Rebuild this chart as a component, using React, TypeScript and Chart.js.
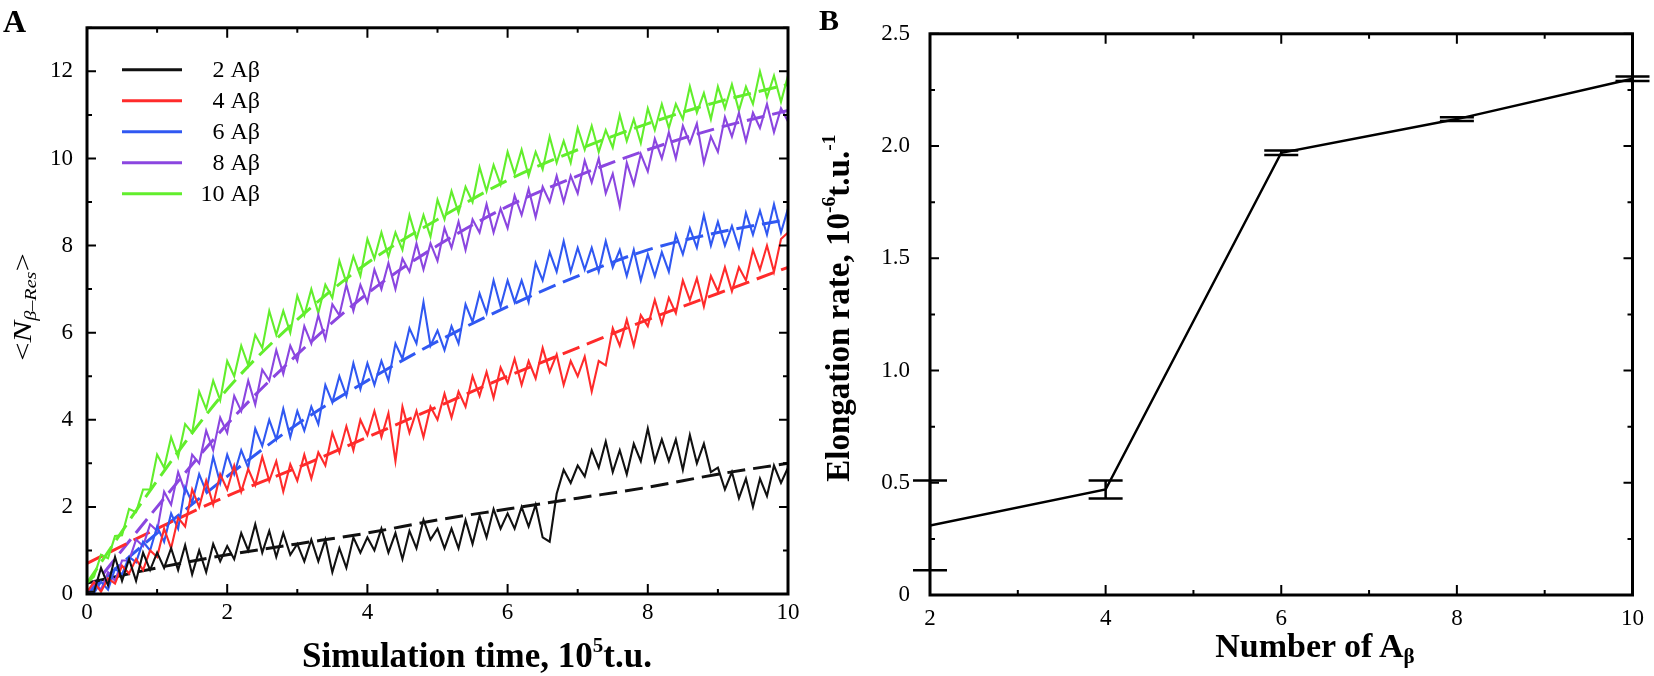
import { useEffect, useRef } from 'react';
import Chart from 'chart.js/auto';

// time grid of the trajectories, 10^5 t.u.
const TIME = Array.from({ length: 101 }, (_, i) => i / 10);
const FIT_TIME = [0, 1, 2, 3, 4, 5, 6, 7, 8, 9, 10];

const SERIES_LABELS = ['2 Aβ', '4 Aβ', '6 Aβ', '8 Aβ', '10 Aβ'];
const SERIES_COLORS = ['#111111', '#ff2b2b', '#3058f2', '#8b46e0', '#62ee2c'];

// <N β-Res> trajectories
const N_2 = [
  0.05, 0.05, 0.6, 0.2, 0.85, 0.3, 0.8, 0.3, 0.95, 0.55,
  0.95, 0.6, 1.05, 0.55, 1.12, 0.45, 1.0, 0.5, 1.15, 0.75,
  1.1, 0.8, 1.4, 1.0, 1.6, 0.95, 1.45, 0.85, 1.4, 0.9,
  1.15, 0.75, 1.25, 0.75, 1.25, 0.5, 1.05, 0.6, 1.3, 0.95,
  1.3, 1.0, 1.5, 0.95, 1.4, 0.8, 1.45, 1.05, 1.7, 1.25,
  1.5, 1.05, 1.5, 1.05, 1.7, 1.15, 1.8, 1.3, 1.95, 1.5,
  1.85, 1.5, 2.0, 1.55, 2.05, 1.3, 1.2, 2.3, 2.85, 2.55,
  2.95, 2.7, 3.3, 2.9, 3.5, 2.8, 3.3, 2.75, 3.45, 3.05,
  3.8, 3.05, 3.55, 3.05, 3.55, 2.85, 3.65, 3.0, 3.45, 2.8,
  2.9, 2.4, 2.8, 2.2, 2.65, 2.0, 2.65, 2.25, 2.95, 2.55,
  2.9,
];
const N_4 = [
  0.05, 0.27, 0.05, 0.36, 0.24, 0.65, 0.47, 0.8, 0.55, 1.0,
  0.85, 1.5, 1.05, 1.75, 1.55, 2.4, 2.0, 2.6, 2.05, 2.75,
  2.4, 2.95, 2.35, 2.87, 2.5, 3.15, 2.6, 3.05, 2.35, 2.98,
  2.6, 3.2, 2.65, 3.25, 2.95, 3.7, 3.25, 3.85, 3.3, 4.0,
  3.65, 4.2, 3.6, 4.15, 3.05, 4.3, 3.7, 4.2, 3.6, 4.3,
  4.0, 4.6, 4.05, 4.65, 4.3, 5.0, 4.55, 5.1, 4.5, 5.2,
  4.85, 5.4, 4.8, 5.35, 4.95, 5.65, 5.1, 5.5, 4.8, 5.35,
  5.0, 5.45, 4.65, 5.35, 5.25, 6.1, 5.7, 6.3, 5.7, 6.4,
  6.15, 6.75, 6.2, 6.8, 6.45, 7.2, 6.75, 7.25, 6.6, 7.3,
  6.95, 7.5, 6.95, 7.5, 7.2, 7.9, 7.45, 8.0, 7.4, 8.15,
  8.3,
];
const N_6 = [
  0.0, 0.02, 0.28, 0.1, 0.58, 0.45, 0.85, 0.73, 1.2, 1.0,
  1.55, 1.2, 1.85, 1.5, 2.45, 2.1, 2.75, 2.35, 3.15, 2.55,
  3.2, 2.75, 3.3, 2.9, 3.8, 3.4, 4.0, 3.55, 4.25, 3.6,
  4.2, 3.75, 4.3, 3.9, 4.8, 4.4, 5.0, 4.55, 5.3, 4.7,
  5.3, 4.8, 5.35, 4.9, 5.75, 5.4, 6.1, 5.75, 6.7, 5.7,
  6.05, 5.6, 6.15, 5.75, 6.65, 6.25, 6.9, 6.45, 7.2, 6.6,
  7.2, 6.7, 7.2, 6.7, 7.6, 7.2, 7.85, 7.4, 8.1, 7.4,
  7.95, 7.45, 7.95, 7.4, 8.1, 7.5, 7.9, 7.3, 7.9, 7.2,
  7.8, 7.3, 7.85, 7.4, 8.25, 7.8, 8.4, 7.95, 8.7, 8.0,
  8.55, 8.0, 8.45, 7.95, 8.75, 8.25, 8.8, 8.25, 8.95, 8.3,
  8.85,
];
const N_8 = [
  0.0, 0.28, 0.1, 0.5, 0.3, 0.77, 0.77, 1.25, 1.1, 1.6,
  1.45, 2.35, 2.05, 2.8, 2.35, 3.2, 3.0, 3.75, 3.3, 4.05,
  3.7, 4.55, 4.2, 4.9, 4.35, 5.15, 4.9, 5.6, 5.05, 5.7,
  5.35, 6.15, 5.75, 6.4, 5.85, 6.65, 6.4, 7.1, 6.5, 7.1,
  6.7, 7.45, 7.0, 7.6, 7.0, 7.7, 7.4, 8.05, 7.45, 8.05,
  7.65, 8.4, 7.95, 8.55, 7.9, 8.6, 8.3, 8.95, 8.3, 8.85,
  8.4, 9.15, 8.7, 9.3, 8.65, 9.35, 9.0, 9.6, 9.0, 9.6,
  9.2, 9.95, 9.45, 10.0, 9.2, 9.65, 8.9, 9.9, 9.4, 10.1,
  9.7, 10.45, 10.0, 10.6, 10.0, 10.75, 10.35, 10.8, 9.9, 10.5,
  10.15, 10.95, 10.5, 11.05, 10.4, 11.05, 10.7, 11.25, 10.6, 11.15,
  10.85,
];
const N_10 = [
  0.25, 0.4, 0.9, 0.82, 1.33, 1.35, 1.95, 1.88, 2.4, 2.4,
  3.2, 2.9, 3.6, 3.15, 3.9, 3.7, 4.65, 4.25, 4.9, 4.45,
  5.35, 5.0, 5.7, 5.25, 5.95, 5.65, 6.5, 5.95, 6.5, 6.0,
  6.85, 6.4, 7.0, 6.45, 7.1, 6.8, 7.65, 7.15, 7.75, 7.3,
  8.15, 7.7, 8.3, 7.75, 8.3, 7.9, 8.7, 8.15, 8.7, 8.2,
  9.05, 8.6, 9.25, 8.75, 9.35, 9.0, 9.8, 9.25, 9.85, 9.4,
  10.15, 9.65, 10.2, 9.6, 10.15, 9.75, 10.5, 9.9, 10.4, 9.9,
  10.7, 10.2, 10.75, 10.15, 10.65, 10.25, 11.0, 10.4, 10.9, 10.35,
  11.15, 10.65, 11.25, 10.7, 11.25, 10.9, 11.65, 11.05, 11.5, 10.9,
  11.65, 11.15, 11.7, 11.1, 11.65, 11.25, 12.0, 11.4, 11.9, 11.3,
  11.9,
];
const TRAJECTORIES = [N_2, N_4, N_6, N_8, N_10];

// dashed fitted curves
const FIT_2 = [0.25, 0.6, 0.9, 1.15, 1.4, 1.7, 1.95, 2.2, 2.45, 2.75, 3.0];
const FIT_4 = [0.7, 1.5, 2.25, 2.9, 3.6, 4.3, 5.0, 5.65, 6.3, 6.9, 7.5];
const FIT_6 = [0.0, 1.4, 2.7, 3.9, 4.9, 5.8, 6.6, 7.3, 7.9, 8.3, 8.6];
const FIT_8 = [0.0, 2.0, 3.9, 5.5, 6.9, 8.0, 8.9, 9.6, 10.2, 10.7, 11.1];
const FIT_10 = [0.25, 2.6, 4.7, 6.3, 7.6, 8.6, 9.5, 10.2, 10.8, 11.3, 11.7];
const FITS = [FIT_2, FIT_4, FIT_6, FIT_8, FIT_10];

// panel B: elongation rate vs number of peptides
const PEPTIDES = [2, 4, 6, 8, 10];
const RATE = [0.31, 0.47, 1.97, 2.12, 2.3];
const RATE_ERR = [0.2, 0.04, 0.01, 0.008, 0.01];

const SERIF = "'Liberation Serif', 'Times New Roman', serif";
const tickFont = { family: SERIF, size: 23 };

// inward ticks on all four sides plus the frame
const frameTicks = {
  id: 'frameTicks',
  afterDatasetsDraw(chart: any, _args: any, opts: any) {
    const { ctx, chartArea: a, scales } = chart;
    const xs = scales.x;
    const ys = scales.y;
    const isMajor = (v: number, step: number) => Math.abs(v / step - Math.round(v / step)) < 1e-6;
    ctx.save();
    ctx.strokeStyle = '#000';
    ctx.lineWidth = 2;
    ctx.beginPath();
    for (let v = xs.min; v <= xs.max + 1e-9; v += opts.xMinor) {
      const len = isMajor(v, opts.xMajor) ? 10 : 5;
      const px = xs.getPixelForValue(v);
      ctx.moveTo(px, a.bottom);
      ctx.lineTo(px, a.bottom - len);
      ctx.moveTo(px, a.top);
      ctx.lineTo(px, a.top + len);
    }
    for (let v = ys.min; v <= ys.max + 1e-9; v += opts.yMinor) {
      const len = isMajor(v, opts.yMajor) ? 9 : 5;
      const py = ys.getPixelForValue(v);
      ctx.moveTo(a.left, py);
      ctx.lineTo(a.left + len, py);
      ctx.moveTo(a.right, py);
      ctx.lineTo(a.right - len, py);
    }
    ctx.stroke();
    ctx.lineWidth = 3;
    ctx.strokeRect(a.left, a.top, a.right - a.left, a.bottom - a.top);
    ctx.restore();
  },
};

// legend in the upper left corner of panel A
const insideLegend = {
  id: 'insideLegend',
  afterDatasetsDraw(chart: any) {
    const { ctx, chartArea: a } = chart;
    ctx.save();
    ctx.font = `24px ${SERIF}`;
    ctx.textAlign = 'right';
    ctx.textBaseline = 'middle';
    SERIES_LABELS.forEach((label, i) => {
      const y = a.top + 42 + i * 31;
      ctx.strokeStyle = SERIES_COLORS[i];
      ctx.lineWidth = 3;
      ctx.beginPath();
      ctx.moveTo(a.left + 35, y);
      ctx.lineTo(a.left + 95, y);
      ctx.stroke();
      ctx.fillStyle = '#000';
      ctx.fillText(label, a.left + 173, y + 1);
    });
    ctx.restore();
  },
};

// error bar caps for panel B
const errorBars = {
  id: 'errorBars',
  afterDatasetsDraw(chart: any) {
    const { ctx, scales } = chart;
    ctx.save();
    ctx.strokeStyle = '#000';
    ctx.lineWidth = 2.5;
    ctx.beginPath();
    PEPTIDES.forEach((n, i) => {
      const px = scales.x.getPixelForValue(n);
      const hi = scales.y.getPixelForValue(RATE[i] + RATE_ERR[i]);
      const lo = scales.y.getPixelForValue(RATE[i] - RATE_ERR[i]);
      ctx.moveTo(px, hi);
      ctx.lineTo(px, lo);
      ctx.moveTo(px - 17, hi);
      ctx.lineTo(px + 17, hi);
      ctx.moveTo(px - 17, lo);
      ctx.lineTo(px + 17, lo);
    });
    ctx.stroke();
    ctx.restore();
  },
};

function baseScale(extra: any) {
  return {
    type: 'linear',
    grid: { display: false, drawTicks: false },
    border: { display: false },
    ...extra,
  };
}

const textAt = (left: number, baseline: number, size: number, bold = true): React.CSSProperties => ({
  position: 'absolute',
  left,
  top: baseline - 0.837 * size,
  fontFamily: SERIF,
  fontSize: size,
  fontWeight: bold ? 'bold' : 'normal',
  lineHeight: 1,
  whiteSpace: 'nowrap',
  color: '#000',
});

const sup: React.CSSProperties = { fontSize: '0.6em', position: 'relative', top: '-0.72em' };
const sub: React.CSSProperties = { fontSize: '0.62em', position: 'relative', top: '0.3em' };

export default function App() {
  const refA = useRef<HTMLCanvasElement>(null);
  const refB = useRef<HTMLCanvasElement>(null);

  useEffect(() => {
    if (!refA.current || !refB.current) return;

    const noisy = TRAJECTORIES.map((vals, i) => ({
      label: SERIES_LABELS[i],
      data: TIME.map((t, j) => ({ x: t, y: vals[j] })),
      borderColor: SERIES_COLORS[i],
      borderWidth: 2.1,
      pointRadius: 0,
      tension: 0,
      order: 1,
    }));
    const fitted = FITS.map((vals, i) => ({
      label: SERIES_LABELS[i] + ' fit',
      data: FIT_TIME.map((t, j) => ({ x: t, y: vals[j] })),
      borderColor: SERIES_COLORS[i],
      borderWidth: 3,
      borderDash: [18, 8],
      pointRadius: 0,
      cubicInterpolationMode: 'monotone',
      order: 2,
    }));

    const chartA = new Chart(refA.current, {
      type: 'line',
      data: { datasets: [...noisy, ...fitted] as any },
      options: {
        animation: false,
        responsive: false,
        layout: { padding: { top: 12, right: 32, left: 0, bottom: 0 } },
        plugins: {
          legend: { display: false },
          tooltip: { enabled: false },
          frameTicks: { xMajor: 2, xMinor: 1, yMajor: 2, yMinor: 1 },
        } as any,
        scales: {
          x: baseScale({
            min: 0,
            max: 10,
            ticks: { stepSize: 2, font: tickFont, color: '#000', padding: 5, maxRotation: 0 },
            afterFit: (s: any) => { s.height = 82; },
          }),
          y: baseScale({
            min: 0,
            max: 13,
            ticks: { stepSize: 2, includeBounds: false, font: tickFont, color: '#000', padding: 14 },
            afterFit: (s: any) => { s.width = 87; },
          }),
        } as any,
      },
      plugins: [frameTicks, insideLegend],
    });

    const chartB = new Chart(refB.current, {
      type: 'line',
      data: {
        datasets: [
          {
            label: 'Elongation rate',
            data: PEPTIDES.map((n, i) => ({ x: n, y: RATE[i] })),
            borderColor: '#000',
            borderWidth: 2.5,
            pointRadius: 0,
            tension: 0,
          },
        ],
      },
      options: {
        animation: false,
        responsive: false,
        layout: { padding: { top: 12, right: 21, left: 0, bottom: 0 } },
        plugins: {
          legend: { display: false },
          tooltip: { enabled: false },
          frameTicks: { xMajor: 2, xMinor: 1, yMajor: 0.5, yMinor: 0.25 },
        } as any,
        scales: {
          x: baseScale({
            min: 2,
            max: 10,
            ticks: { stepSize: 2, font: tickFont, color: '#000', padding: 10, maxRotation: 0 },
            afterFit: (s: any) => { s.height = 81; },
          }),
          y: baseScale({
            min: 0,
            max: 2.5,
            ticks: {
              stepSize: 0.5,
              font: tickFont,
              color: '#000',
              padding: 20,
              callback: (v: any) => (Number(v) === 0 ? '0' : Number(v).toFixed(1)),
            },
            afterFit: (s: any) => { s.width = 110; },
          }),
        } as any,
      },
      plugins: [frameTicks, errorBars],
    });

    return () => {
      chartA.destroy();
      chartB.destroy();
    };
  }, []);

  return (
    <div style={{ position: 'absolute', left: 0, top: 0, width: 1654, height: 676, background: '#fff', overflow: 'hidden' }}>
      <canvas ref={refA} width={820} height={676} style={{ position: 'absolute', left: 0, top: 0 }} />
      <canvas ref={refB} width={834} height={676} style={{ position: 'absolute', left: 820, top: 0 }} />

      <div style={textAt(3, 32, 32)}>A</div>
      <div style={textAt(819, 30, 30)}>B</div>

      <div style={{ ...textAt(477, 667, 35), transform: 'translateX(-50%)' }}>
        Simulation time, 10<span style={sup}>5</span>t.u.
      </div>
      <div style={{ ...textAt(1315, 657, 34), transform: 'translateX(-50%)' }}>
        Number of A<span style={sub}>β</span>
      </div>

      <div
        style={{
          ...textAt(0, 0, 26, false),
          left: 23,
          top: 307,
          transform: 'translate(-50%, -50%) rotate(-90deg) scaleX(1.25)',
        }}
      >
        &lt;<i>N</i>
        <span style={sub}>
          <i>β–Res</i>
        </span>
        &gt;
      </div>
      <div
        style={{
          ...textAt(0, 0, 33),
          left: 838,
          top: 308,
          transform: 'translate(-50%, -50%) rotate(-90deg)',
        }}
      >
        Elongation rate, 10<span style={sup}>-6</span>t.u.<span style={sup}>-1</span>
      </div>
    </div>
  );
}
